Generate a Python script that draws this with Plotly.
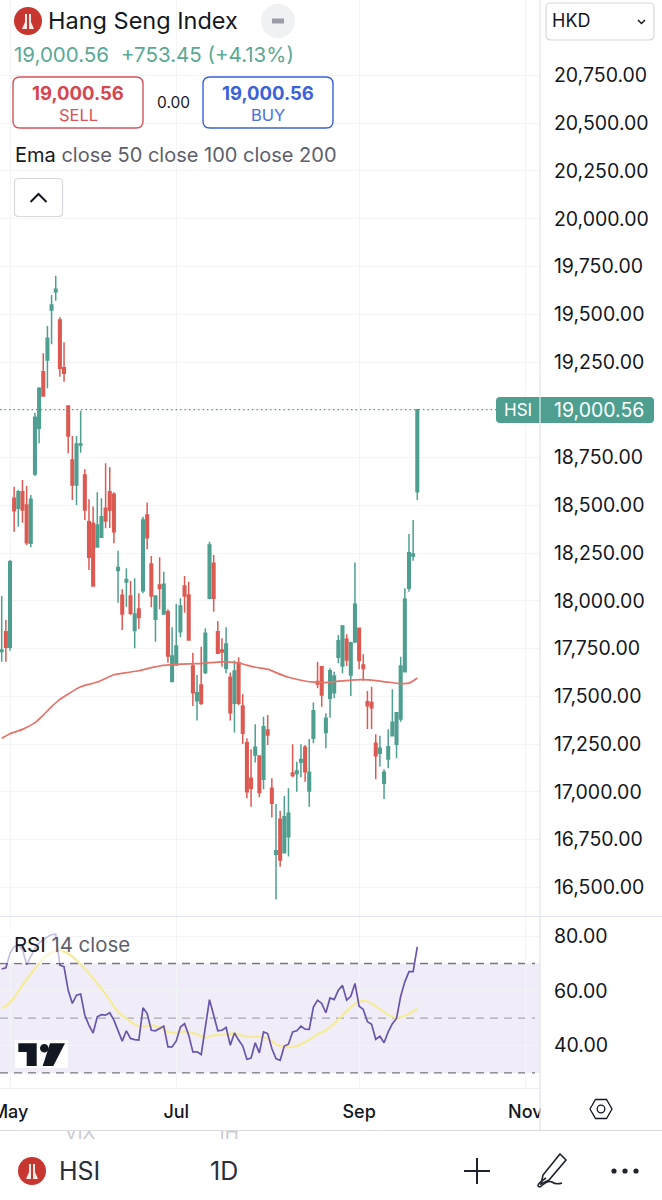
import plotly.graph_objects as go

W, H = 662, 1200

# ---------- data ----------
open_ = [17735,17838,17757,18537,18484,18571,18502,18301,18664,18903,
19199,19261,19522,19618,19470,19220,19020,18737,18606,18816,
18659,18414,18406,18282,18332,18484,18571,18558,18159,18029,
18099,18025,17844,17957,18053,18449,18193,17903,18083,17931,
17943,17577,17664,17838,18077,18030,17659,17477,17559,17624,
18013,18196,17838,17743,17647,17600,17464,17676,17449,17257,
17071,17193,17188,17066,17324,17019,16673,16856,16681,16765,
17099,17096,17156,17233,17004,17280,17578,17655,17310,17490,
17519,17704,17659,17799,17612,17786,17856,17664,17472,17467,
17254,17202,17045,17172,17294,17249,17381,17629,18066,18235,
18571]
close_ = [17742,17757,18205,18472,18571,18475,18304,18531,18961,19112,
19072,19374,19548,19631,19217,19191,18863,18606,18821,18821,
18475,18228,18078,18397,18440,18418,18475,18362,18174,17931,
18112,17935,17931,17912,18423,18330,18025,18025,18066,18086,
17711,17711,17763,17973,18025,17795,17519,17519,17464,17830,
18292,18013,17725,17732,17774,17414,17633,17464,17307,17001,
17019,17233,16996,17341,17297,16940,16692,16643,16870,16888,
17086,17109,17169,17105,17102,17425,17565,17507,17385,17634,
17606,17791,17868,17690,17781,17982,17687,17645,17451,17440,
17189,17228,17102,17236,17364,17414,17659,18008,18252,18245,
19000.56]
high = [18025,17900,18214,18597,18580,18632,18601,18554,18985,19118,
19296,19439,19601,19702,19484,19353,19020,18863,18863,18995,
18688,18531,18493,18568,18537,18720,18699,18568,18262,18060,
18170,18105,18118,18039,18440,18514,18235,18025,18228,18152,
17956,17861,17983,18013,18130,18100,17728,17612,17760,17856,
18309,18240,17894,17804,17861,17624,17687,17704,17511,17280,
17223,17354,17188,17393,17402,17071,16936,16901,16978,17019,
17249,17158,17249,17245,17277,17467,17681,17659,17411,17647,
17629,17821,17873,17825,17786,18200,17856,17720,17528,17550,
17301,17294,17118,17327,17537,17414,17707,18066,18350,18423,
19000.56]
low = [17681,17681,17739,18362,18388,18409,18292,18280,18653,18825,
19068,19112,19343,19571,19173,19147,18772,18528,18502,18775,
18423,18161,18078,18280,18332,18380,18381,18301,17990,17847,
17969,17926,17751,17853,18039,18270,17966,17786,17956,17931,
17676,17577,17664,17809,17938,17795,17449,17373,17455,17617,
18013,17943,17722,17655,17621,17373,17310,17455,17251,16966,
16922,17153,16972,17013,17245,16865,16437,16608,16678,16661,
17076,17001,17076,17053,16922,17254,17542,17446,17228,17388,
17490,17673,17621,17659,17502,17778,17642,17582,17329,17329,
17066,17132,16963,17123,17294,17176,17367,17629,18048,18210,
18528]
bars = list(range(len(close_)))

ema_bars = [0,2,5,8,10,12,14,16,19,23,27,30,33,36,39,43,47,50,53,56,58,61,64,66,69,72,75,78,81,84,87,90,93,96,98,100]
ema_vals = [17280,17304,17327,17362,17402,17446,17484,17512,17550,17575,17613,17624,17634,17650,17662,17669,17671,17676,
            17680,17678,17669,17652,17642,17624,17600,17584,17574,17572,17579,17585,17587,17582,17574,17567,17569,17596]

rsi_vals = [68.0,68.4,73.7,76.1,76.7,75.1,69.6,72.4,75.5,77.6,78.5,79.8,80.5,80.7,69.4,68.8,60.2,55.4,58.4,58.8,
51.1,47.4,44.6,50.5,51.3,51.1,52.0,49.3,45.6,41.6,45.4,42.6,42.2,42.0,53.8,51.7,45.6,45.4,46.2,47.1,
39.5,39.5,41.7,46.8,48.0,43.8,37.7,37.7,36.7,46.8,56.8,51.1,45.4,45.6,46.6,40.1,44.6,42.0,39.8,35.0,
35.4,41.0,37.3,45.0,44.4,38.9,35.2,34.6,39.8,40.5,45.0,45.4,47.1,46.0,45.9,54.1,56.6,55.4,52.0,57.4,
56.8,60.2,62.0,56.6,58.0,62.7,54.4,53.2,48.7,47.8,42.3,43.4,41.0,45.0,48.0,49.9,58.0,63.3,67.0,67.0,76.1]

ma_bars = [0,1,3,5,8,10,12,14,16,20,23,25,28,30,32,34,36,38,40,42,44,47,49,51,54,56,59,62,64,66,68,71,73,76,78,80,82,84,86,88,90,93,95,97,100]
ma_vals = [53.8,54.4,57.6,62.1,68.2,71.8,74.0,74.6,73.7,68.2,62.7,58.8,52.3,49.9,47.8,46.8,47.4,46.6,45.0,44.6,45.2,44.1,42.9,43.8,
           44.1,44.4,43.2,43.2,42.6,40.5,39.5,39.8,41.3,44.1,45.6,48.0,51.1,54.1,56.0,56.2,54.4,51.3,50.1,50.9,53.4]

price_ticks = [16500,16750,17000,17250,17500,17750,18000,18250,18500,18750,19000,19250,19500,19750,20000,20250,20500,20750]
# the 19,000 label sits under the last-price tag, only its grid line shows
price_labels = ["" if v == 19000 else f"{v:,.2f}" for v in price_ticks]
rsi_ticks = [40,60,80]
month_bars = [2,42,86,126]
month_labels = ["May","Jul","Sep","Nov"]
last_price = 19000.56

# ---------- styles ----------
UP, DOWN = "#4f9f91", "#dc5a52"
INK, MUTED, GRID, RULE = "#131722", "#5d606b", "#f3f4f6", "#e0e3eb"
FONT = "Inter, 'Noto Sans', sans-serif"

def px(x): return x / W
def py(y): return 1 - y / H

fig = go.Figure()
fig.add_trace(go.Candlestick(x=bars, open=open_, high=high, low=low, close=close_,
    increasing=dict(line=dict(color=UP, width=1.5), fillcolor=UP),
    decreasing=dict(line=dict(color=DOWN, width=1.5), fillcolor=DOWN),
    whiskerwidth=0, xaxis="x", yaxis="y", showlegend=False))
fig.add_trace(go.Scatter(x=ema_bars, y=ema_vals, mode="lines", line=dict(color="#e4736a", width=1.7, shape="spline", smoothing=0.7),
    xaxis="x", yaxis="y", showlegend=False))
fig.add_trace(go.Scatter(x=ma_bars, y=ma_vals, mode="lines", line=dict(color="#f4ec9b", width=2.3, shape="spline", smoothing=0.7),
    xaxis="x2", yaxis="y2", showlegend=False))
fig.add_trace(go.Scatter(x=bars, y=rsi_vals, mode="lines", line=dict(color="#6a55ab", width=1.7),
    xaxis="x2", yaxis="y2", showlegend=False))
# faded tabs of the neighbouring watch-list row, cut by the toolbar edge
fig.add_trace(go.Scatter(x=[80, 228], y=[1134, 1134], mode="text", text=["VIX", "1H"],
    textfont=dict(family=FONT, size=19, color="#c9ccd2"), cliponaxis=True,
    xaxis="x3", yaxis="y3", showlegend=False))

shapes, ann = [], []

def rrect(x0, y0, x1, y1, r, **kw):
    path = (f"M{px(x0+r)},{py(y0)} L{px(x1-r)},{py(y0)} Q{px(x1)},{py(y0)} {px(x1)},{py(y0+r)} "
            f"L{px(x1)},{py(y1-r)} Q{px(x1)},{py(y1)} {px(x1-r)},{py(y1)} L{px(x0+r)},{py(y1)} "
            f"Q{px(x0)},{py(y1)} {px(x0)},{py(y1-r)} L{px(x0)},{py(y0+r)} Q{px(x0)},{py(y0)} {px(x0+r)},{py(y0)} Z")
    shapes.append(dict(type="path", path=path, xref="paper", yref="paper", layer="above", **kw))

def poly(pts, close=False, **kw):
    d = "M" + " L".join(f"{px(a)},{py(b)}" for a, b in pts) + (" Z" if close else "")
    shapes.append(dict(type="path", path=d, xref="paper", yref="paper", layer="above", **kw))

def rect(x0, y0, x1, y1, color, opacity=1):
    shapes.append(dict(type="rect", xref="paper", yref="paper", x0=px(x0), x1=px(x1), y0=py(y0), y1=py(y1),
                       fillcolor=color, opacity=opacity, line=dict(width=0), layer="above"))

def circle(cx, cy, r, fill=None, line=None):
    shapes.append(dict(type="circle", xref="paper", yref="paper", x0=px(cx-r), x1=px(cx+r), y0=py(cy+r), y1=py(cy-r),
                       fillcolor=fill or "rgba(0,0,0,0)", line=line or dict(width=0), layer="above"))

def hline(x0, x1, y, color=RULE, width=1):
    poly([(x0, y), (x1, y)], line=dict(color=color, width=width))

def text(x, y, s, size, color=INK, anchor="left"):
    ann.append(dict(x=px(x), y=py(y), xref="paper", yref="paper", text=s, showarrow=False,
                    xanchor=anchor, yanchor="middle", font=dict(family=FONT, size=size, color=color),
                    align=anchor, borderpad=0, borderwidth=0))

def logo(cx, cy, r):
    circle(cx, cy, r, fill="#c8372f")
    s = r / 14
    for sign in (-1, 1):
        poly([(cx + sign*1*s, cy - 7*s), (cx + sign*3*s, cy - 7*s), (cx + sign*3*s, cy + 1*s),
              (cx + sign*6*s, cy + 8*s), (cx + sign*1*s, cy + 8*s)], close=True,
             fillcolor="#f6e9e6", line=dict(width=0))

# RSI band
shapes.append(dict(type="rect", xref="paper", yref="y2", x0=0, x1=px(540), y0=30, y1=70,
                   fillcolor="rgba(126,87,194,0.11)", line=dict(width=0), layer="below"))
for lvl, col in ((70, "#77777f"), (50, "#a8a8ae"), (30, "#77777f")):
    shapes.append(dict(type="line", xref="paper", yref="y2", x0=0, x1=px(535), y0=lvl, y1=lvl,
                       line=dict(color=col, width=1.3, dash="8px 6px"), layer="below"))
# last price line, above the grid line it nearly coincides with
shapes.append(dict(type="line", xref="paper", yref="y", x0=0, x1=px(497), y0=last_price, y1=last_price,
                   line=dict(color="#4f9f91", width=1.4, dash="1.5px 3px"), layer="above"))

# legend fade over the RSI line, clip of the "Nov" label
rect(0, 925, 62, 963, "#ffffff", 0.62)
rect(540.5, 1089, 662, 1130, "#ffffff")
poly([(540, 0), (540, 1131)], line=dict(color=RULE, width=1.2))
hline(0, 662, 916.5)
hline(0, 540, 1088.5, color="#eceef1")
hline(0, 662, 1130.5, color="#d9dbe0", width=1.2)

# last price tag
rrect(496, 397, 654, 423, 4, fillcolor=UP, line=dict(width=0))
poly([(540, 397), (540, 423)], line=dict(color="#ffffff", width=1))
text(517.5, 410, "HSI", 17, "#ffffff", "center")
text(554, 409.5, "19,000.56", 19.5, "#ffffff")

# header
logo(28, 21, 14)
text(48, 21, "Hang Seng Index", 23.5)
circle(278, 21, 17, fill="#f0f1f3")
poly([(272, 21), (284, 21)], line=dict(color="#9b9ea6", width=5))
text(14, 55, "19,000.56", 20.5, "#5aa896")
text(121, 55, "+753.45 (+4.13%)", 20.5, "#5aa896")
rrect(13, 77, 143, 128, 7, fillcolor="#ffffff", line=dict(color="#d5545a", width=1.4))
text(78, 92.5, "<b>19,000.56</b>", 18.5, "#d6464f", "center")
text(78, 114.5, "SELL", 16.5, "#d6545a", "center")
text(173, 102.5, "0.00", 15.5, INK, "center")
rrect(203, 77, 333, 128, 7, fillcolor="#ffffff", line=dict(color="#3a62d8", width=1.4))
text(268, 92.5, "<b>19,000.56</b>", 18.5, "#3a62d8", "center")
text(268, 114.5, "BUY", 16.5, "#4a6fdc", "center")
text(15, 155, f"Ema <span style='color:{MUTED}'>close 50 close 100 close 200</span>", 20)
rrect(14.5, 178.5, 62.5, 216.5, 4, fillcolor="#ffffff", line=dict(color="#d6d8dc", width=1.2))
poly([(30.5, 202), (38.5, 194), (46.5, 202)], line=dict(color=INK, width=2))
rrect(546, 3, 654, 40, 5, fillcolor="#ffffff", line=dict(color="#d6d8dc", width=1.2))
text(552, 21, "HKD", 18)
poly([(638, 20), (641.5, 23.5), (645, 20)], line=dict(color=INK, width=1.5))

# RSI legend and watermark
text(14, 944, f"RSI <span style='color:{MUTED}'>14 close</span>", 20.4)
rect(15, 1040, 68, 1068, "#ffffff")
poly([(18.3,1043.3),(36.7,1043.3),(36.7,1066),(26.7,1066),(26.7,1052),(18.3,1052)], close=True, fillcolor=INK, line=dict(width=0))
circle(44.3, 1048.3, 4.3, fill=INK)
poly([(50,1043.3),(65,1043.3),(53.3,1066),(42.7,1066)], close=True, fillcolor=INK, line=dict(width=0))

# settings hexagon
poly([(590,1109),(595.5,1099.5),(606.5,1099.5),(612,1109),(606.5,1118.5),(595.5,1118.5)], close=True,
     line=dict(color=INK, width=1.3))
circle(601, 1109, 3.8, line=dict(color=INK, width=1.3))

# bottom toolbar
logo(32, 1171, 14)
text(59, 1171, "HSI", 25, "#2a2e39")
text(210, 1171, "1D", 25, "#2a2e39")
poly([(464, 1171), (490, 1171)], line=dict(color="#1e222d", width=2))
poly([(477, 1158), (477, 1184)], line=dict(color="#1e222d", width=2))
poly([(560,1154),(566,1160),(549,1180),(541,1184),(543,1175)], close=True, line=dict(color="#1e222d", width=1.6))
shapes.append(dict(type="path", xref="paper", yref="paper", layer="above", line=dict(color="#1e222d", width=1.6),
    path=f"M{px(546)},{py(1178)} Q{px(534)},{py(1186)} {px(540)},{py(1187)} Q{px(548)},{py(1180)} {px(552)},{py(1182)} Q{px(556)},{py(1185)} {px(562)},{py(1183)}"))
for dx in (614, 625, 636):
    circle(dx, 1171, 2.6, fill="#1e222d")

ax_font = dict(family=FONT, size=19.5, color=INK)
grid = dict(showgrid=True, gridcolor=GRID, gridwidth=1.2, zeroline=False, showline=False)
xr = [(0 - 1.7) / 4.156, (540 - 1.7) / 4.156]

fig.update_layout(
    width=W, height=H, margin=dict(l=0, r=0, t=0, b=0, pad=0, autoexpand=False),
    paper_bgcolor="#ffffff", plot_bgcolor="#ffffff", showlegend=False, boxgap=0.12,
    xaxis=dict(domain=[0, px(540)], range=xr, anchor="y", tickvals=month_bars, ticktext=[""]*4,
               rangeslider=dict(visible=False), ticks="", **grid),
    yaxis=dict(domain=[py(916), 1], range=[16350, 21145], side="right", anchor="x", tickvals=price_ticks,
               ticktext=price_labels, tickfont=ax_font, ticks="outside", ticklen=9, tickcolor="rgba(0,0,0,0)", **grid),
    xaxis2=dict(domain=[0, px(540)], range=xr, anchor="y2", tickvals=month_bars, ticktext=month_labels,
                tickfont=dict(family=FONT, size=18, color=INK, weight=500), ticks="outside", ticklen=7,
                tickcolor="rgba(0,0,0,0)", ticklabeloverflow="allow", **grid),
    yaxis2=dict(domain=[py(1088.5), py(917)], range=[24.3, 87], side="right", anchor="x2", tickvals=rsi_ticks,
                tickformat=".2f", tickfont=ax_font, ticks="outside", ticklen=9, tickcolor="rgba(0,0,0,0)", **grid),
    xaxis3=dict(domain=[0, 1], range=[0, W], anchor="y3", visible=False, fixedrange=True),
    yaxis3=dict(domain=[0, py(1131)], range=[1200, 1131], anchor="x3", visible=False, fixedrange=True),
    shapes=shapes, annotations=ann,
)

fig.write_html("out.html", config=dict(displayModeBar=False),
               post_script="document.body.style.margin='0';document.body.style.overflow='hidden';")
